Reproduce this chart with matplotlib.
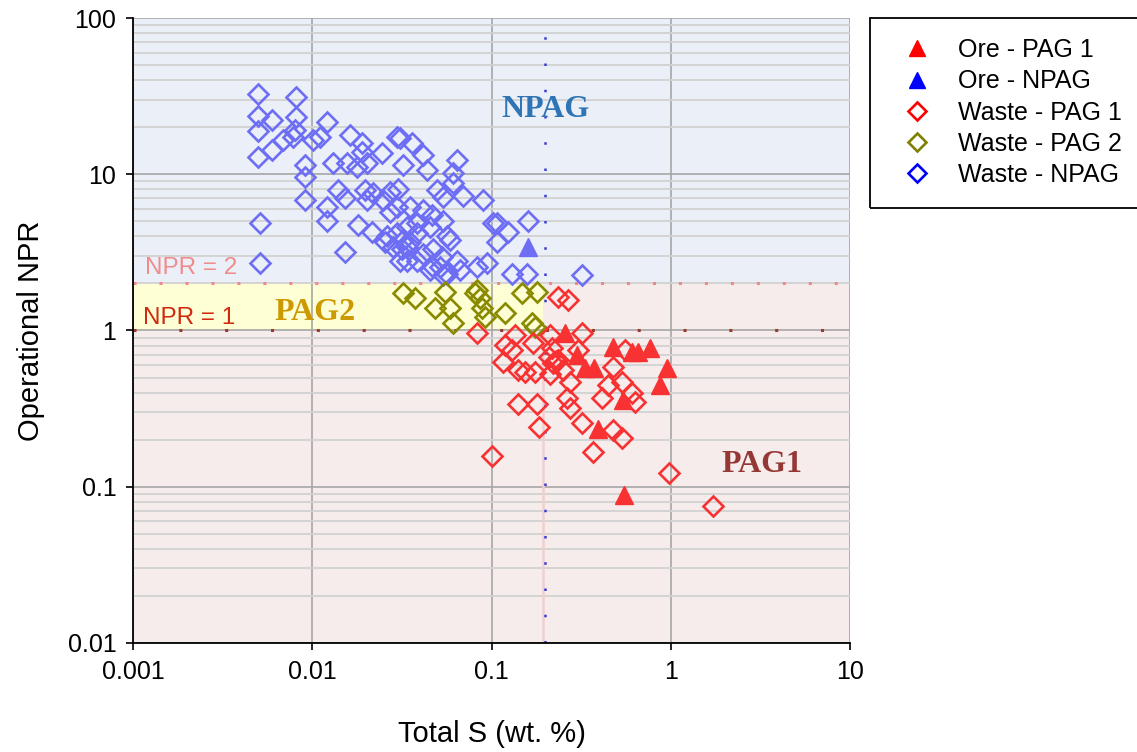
import numpy as np
import matplotlib.pyplot as plt
from matplotlib.lines import Line2D
from matplotlib.patches import Rectangle
from matplotlib.ticker import LogLocator, NullFormatter

plt.rcParams['font.family'] = ['Liberation Sans', 'DejaVu Sans']

# Waste - NPAG (total S wt.%, operational NPR)
waste_npag_s = [0.005, 0.0081, 0.005, 0.006, 0.005, 0.0081, 0.006, 0.0069, 0.008, 0.0078,
                0.005, 0.0091, 0.0091, 0.0091, 0.0121, 0.0101, 0.011, 0.0162, 0.019, 0.019,
                0.0245, 0.0297, 0.0309, 0.036, 0.0414, 0.0321, 0.0437, 0.0131, 0.0156, 0.0178,
                0.0202, 0.0121, 0.0121, 0.0139, 0.0152, 0.0197, 0.0218, 0.0272, 0.0301, 0.018,
                0.0216, 0.0152, 0.0051, 0.0051, 0.0261, 0.0321, 0.0248, 0.0297, 0.0351, 0.0384,
                0.0414, 0.0497, 0.0536, 0.0466, 0.0337, 0.0414, 0.0472, 0.0529, 0.0564, 0.0384,
                0.0309, 0.0282, 0.0202, 0.0272, 0.0254, 0.0297, 0.0337, 0.0317, 0.0351, 0.0384,
                0.0454, 0.0472, 0.0337, 0.061, 0.0693, 0.0536, 0.0564, 0.0587, 0.0454, 0.0516,
                0.0536, 0.0642, 0.0667, 0.0897, 0.0831, 0.0944, 0.1018, 0.061, 0.16, 0.107,
                0.124, 0.107, 0.13, 0.158, 0.318, 0.0642]
waste_npag_npr = [32.6, 31.2, 23.6, 22.2, 18.9, 23.2, 14.3, 16.5, 19.2, 17.3,
                  12.9, 11.5, 9.6, 6.8, 21.6, 16.5, 17.3, 17.8, 15.8, 13.9,
                  13.7, 17.3, 17.1, 15.8, 13.3, 11.5, 10.6, 11.8, 11.8, 11.1,
                  11.8, 6.2, 5.0, 7.9, 7.0, 7.9, 7.6, 7.7, 8.1, 4.7,
                  4.3, 3.2, 4.9, 2.7, 4.0, 3.8, 6.8, 6.2, 6.2, 4.9,
                  5.9, 7.9, 7.1, 5.5, 3.4, 3.1, 2.55, 2.95, 2.3, 2.8,
                  2.8, 3.4, 6.8, 5.7, 3.7, 4.2, 4.6, 3.3, 3.7, 4.2,
                  4.6, 3.3, 2.8, 8.8, 7.3, 5.0, 4.0, 3.8, 2.45, 2.55,
                  2.25, 2.8, 2.45, 6.8, 2.55, 2.7, 4.9, 10.2, 5.0, 4.9,
                  4.3, 3.7, 2.3, 2.3, 2.25, 12.3]

# Waste - PAG 2
waste_pag2_s = [0.0321, 0.0374, 0.055, 0.0484, 0.0587, 0.061, 0.0809, 0.0831, 0.0863, 0.0885,
                0.092, 0.119, 0.148, 0.18, 0.168, 0.175]
waste_pag2_npr = [1.74, 1.61, 1.76, 1.39, 1.39, 1.12, 1.74, 1.82, 1.61, 1.39,
                  1.22, 1.29, 1.74, 1.76, 1.12, 1.05]

# Waste - PAG 1
waste_pag1_s = [0.0831, 0.235, 0.267, 0.135, 0.119, 0.13, 0.116, 0.171, 0.141, 0.154,
                0.175, 0.212, 0.218, 0.235, 0.212, 0.25, 0.274, 0.318, 0.304, 0.264,
                0.274, 0.141, 0.18, 0.185, 0.318, 0.475, 0.447, 0.413, 0.535, 0.608,
                0.632, 0.475, 0.535, 0.368, 0.1007, 0.556, 0.977, 1.72, 0.21, 0.22, 0.23]
waste_pag1_npr = [0.96, 1.64, 1.57, 0.93, 0.81, 0.75, 0.63, 0.83, 0.56, 0.54,
                  0.54, 0.93, 0.77, 0.65, 0.53, 0.56, 0.47, 0.96, 0.75, 0.37,
                  0.32, 0.34, 0.34, 0.24, 0.256, 0.58, 0.45, 0.37, 0.47, 0.40,
                  0.35, 0.23, 0.205, 0.167, 0.157, 0.75, 0.122, 0.075, 0.68, 0.62, 0.64]

# Ore - PAG 1
ore_pag1_s = [0.257, 0.30, 0.333, 0.373, 0.475, 0.608, 0.657, 0.766, 0.953, 0.871,
              0.542, 0.393, 0.548]
ore_pag1_npr = [0.96, 0.70, 0.575, 0.575, 0.78, 0.73, 0.73, 0.77, 0.575, 0.45,
                0.36, 0.234, 0.0885]

# Ore - NPAG
ore_npag_s = [0.16]
ore_npag_npr = [3.4]

fig = plt.figure(figsize=(11.37, 7.52), dpi=100)
ax = fig.add_axes([133 / 1137, 1 - 643 / 752, 717 / 1137, 625 / 752])
ax.set_xscale('log')
ax.set_yscale('log')
ax.set_xlim(0.001, 10)
ax.set_ylim(0.01, 100)

# classification zones
ax.fill_between([0.001, 10], 2, 100, color='#EBF0F8', zorder=0, lw=0)
ax.fill_between([0.001, 0.195], 1, 2, color='#FFFFD5', zorder=0, lw=0)
ax.fill_between([0.195, 10], 1, 2, color='#F6ECEB', zorder=0, lw=0)
ax.fill_between([0.001, 10], 0.01, 1, color='#F6ECEB', zorder=0, lw=0)

ax.grid(which='major', axis='both', color='#A6A6A6', lw=1.2, zorder=1)
ax.yaxis.set_minor_locator(LogLocator(base=10, subs=np.arange(2, 10)))
ax.yaxis.set_minor_formatter(NullFormatter())
ax.grid(which='minor', axis='y', color='#D2D2D2', lw=1.3, zorder=1)
ax.set_axisbelow(True)

ax.plot([0.195, 0.195], [0.01, 1], color='#F2CFCF', lw=1.8, zorder=1.5)
ax.axhline(2, color='#F08A8A', lw=2.2, ls=(0, (1, 7.5)), zorder=1.6)
ax.axhline(1, color='#9A3A2A', lw=2.2, ls=(0, (1, 14)), zorder=1.6)
ax.axvline(0.2, color='#3B3BD0', lw=1.8, ls=(0, (1, 9.5)), zorder=1.6)

mk = dict(ls='none', marker='D', ms=10.3, mew=1.9, mfc='none', zorder=3)
ax.plot(waste_npag_s, waste_npag_npr, mec='#6E6EF5', **mk)
ax.plot(waste_pag2_s, waste_pag2_npr, mec='#8A8A00', **mk)
ax.plot(waste_pag1_s, waste_pag1_npr, mec='#F83232', **mk)
ax.plot(ore_pag1_s, ore_pag1_npr, ls='none', marker='^', ms=13, color='#F83232', zorder=4)
ax.plot(ore_npag_s, ore_npag_npr, ls='none', marker='^', ms=13, color='#6E6EF5', zorder=4)

serif = ['Liberation Serif', 'DejaVu Serif']
ax.text(0.2, 25.8, 'NPAG', family=serif, weight='bold', fontsize=23, color='#2F75B5',
        ha='center', va='center', zorder=5)
ax.text(0.0104, 1.31, 'PAG2', family=serif, weight='bold', fontsize=23, color='#CC9900',
        ha='center', va='center', zorder=5)
ax.text(3.23, 0.138, 'PAG1', family=serif, weight='bold', fontsize=23, color='#953735',
        ha='center', va='center', zorder=5)
ax.text(0.00117, 2.5, 'NPR = 2', fontsize=17.5, color='#F08C8C', ha='left', va='center', zorder=5)
ax.text(0.00114, 1.2, 'NPR = 1', fontsize=17.5, color='#D02A10', ha='left', va='center', zorder=5)

ax.set_xticks([0.001, 0.01, 0.1, 1, 10])
ax.set_xticklabels(['0.001', '0.01', '0.1', '1', '10'])
ax.set_yticks([0.01, 0.1, 1, 10, 100])
ax.set_yticklabels(['0.01', '0.1', '1', '10', '100'])
ax.xaxis.set_minor_formatter(NullFormatter())
ax.tick_params(which='major', direction='out', length=5, width=1.2, labelsize=18, pad=7)
ax.tick_params(which='minor', length=0)
for side in ['top', 'right']:
    ax.spines[side].set_visible(False)
for side in ['left', 'bottom']:
    ax.spines[side].set_linewidth(1.3)
    ax.spines[side].set_color('black')

ax.set_xlabel('Total S (wt. %)', fontsize=21, labelpad=26)
ax.set_ylabel('Operational NPR', fontsize=21, labelpad=16)

handles = [
    Line2D([], [], ls='none', marker='^', ms=12, color='#FF0000'),
    Line2D([], [], ls='none', marker='^', ms=12, color='#0000FF'),
    Line2D([], [], ls='none', marker='D', ms=9, mew=1.9, mfc='none', mec='#FF0000'),
    Line2D([], [], ls='none', marker='D', ms=9, mew=1.9, mfc='none', mec='#808000'),
    Line2D([], [], ls='none', marker='D', ms=9, mew=1.9, mfc='none', mec='#0000FF'),
]
labels = ['Ore - PAG 1', 'Ore - NPAG', 'Waste - PAG 1', 'Waste - PAG 2', 'Waste - NPAG']
fig.patches.append(Rectangle((870 / 1137, 1 - 208 / 752), 300 / 1137, 190 / 752,
                             transform=fig.transFigure, fill=False, ec='black', lw=1.3))
fig.legend(handles, labels, loc='upper left', bbox_to_anchor=(870 / 1137, 1 - 18 / 752),
           frameon=False, fontsize=18, borderaxespad=0, borderpad=0.8, handlelength=2.16,
           handletextpad=0.56, labelspacing=0.29)

fig.savefig('out.png', dpi=100)
